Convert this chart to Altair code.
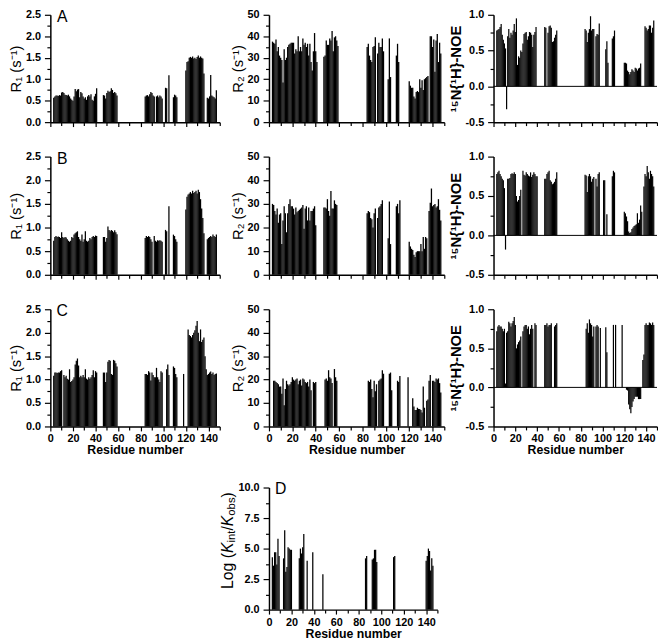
import altair as alt
import pandas as pd

FONT = "Liberation Sans"
XMAX = 150

# ---- data: (first residue, values of consecutive residues); None = no data ----
R1_A = [
    (3, [0.57, 0.60, 0.62, 0.62, 0.61, 0.63, 0.62, 0.69, 0.70, 0.68, 0.64, 0.63, 0.62, 0.64, 0.60, 0.55, 0.52, 0.50, 0.60, 0.77,
         0.72, 0.76, 0.77, 0.58, 0.70, 0.67, 0.60, 0.55, 0.58, 0.52, 0.60, 0.63, 0.60, 0.65, 0.52, 0.50, 0.60, 0.66, 0.79]),
    (47, [0.63, 0.62, 0.55, 0.68, 0.73, 0.70, 0.72, 0.79, 0.75, 0.68, 0.70, 0.67, 0.62]),
    (84, [0.60, 0.62, 0.63, 0.60, 0.65, 0.70, 0.68, 0.62, 0.60, None, 0.60, 0.62, 0.58, 0.62, 0.60, 0.55]),
    (102, [0.80, 0.79, None, 1.09]),
    (109, [0.58, 0.64, 0.62, 0.58]),
    (120, [1.20, 1.40, 1.42, 1.50, 1.52, 1.50, 1.53, 1.48, 1.50, 1.47, 1.52, 1.55, 1.50, 1.53, 1.50, 1.48, 1.13]),
    (139, [0.57, 0.55, 0.60, 1.10, 0.62, 0.60, 0.58, 0.55, 0.74]),
]
R1_B = [
    (3, [0.72, 0.80, 0.82, 0.80, 0.81, 0.80, 0.78, 0.90, 0.80, 0.78, 0.80, 0.79, 0.75, 0.72, 0.70, 0.72, 0.80, 0.78, 0.85, 0.88,
         0.90, 0.92, 0.80, 0.75, 0.72, 0.85, 0.70, 0.75, 0.92, 0.72, 0.70, 0.72, 0.78, 0.75, 0.80, 0.82, 0.80, 0.83, 0.82]),
    (47, [0.80, 0.80, 0.70, 0.78, 1.02, 0.95, 0.92, 0.95, 0.93, 0.90, 0.94, 0.90, 0.86]),
    (84, [0.78, 0.82, 0.80, 0.82, 0.80, 0.75, 0.70, None, 0.82, 0.72, 0.70, 0.73, 0.72, 0.73, 0.72, 0.70]),
    (102, [0.95, 0.92, None, 1.45]),
    (109, [0.85, 0.82, 0.75, 0.70]),
    (120, [1.38, 1.65, 1.70, 1.72, 1.75, 1.72, 1.78, 1.73, 1.75, 1.78, 1.72, 1.80, 1.75, 1.60, 1.40, 1.20, 0.88]),
    (139, [0.75, 0.78, 0.80, 0.82, 0.80, 0.85, 0.82, 0.80, 0.85]),
]
R1_C = [
    (3, [1.08, 1.15, 1.15, 1.14, 1.15, 1.15, 1.18, 1.20, None, 1.10, 1.05, 1.08, 1.02, 1.00, 1.22, 0.95, 0.97, 1.00, 1.05, 1.32,
         1.40, 1.45, 1.30, 1.05, 1.08, 1.05, 1.10, 1.05, 1.22, 1.02, 1.00, 1.05, 1.02, 1.05, 1.10, 1.20, 1.05, 1.18, 1.15]),
    (47, [1.15, 1.15, 0.95, 1.15, 1.38, 1.42, 1.40, 1.12, 1.10, 1.42, 1.40, 1.35, 1.28]),
    (84, [1.12, 1.12, 1.10, 1.18, 1.15, 0.98, 1.15, 1.10, 1.05, 1.05, 1.25, 1.05, 1.00, 0.95, 1.18, 1.15]),
    (103, [1.22, 1.32, 1.10]),
    (109, [1.28, 1.25, 1.12, 1.05]),
    (118, [1.12]),
    (122, [2.07, 1.95, 1.93, 1.90, 1.95, 2.00, 2.05, 2.15, 2.25, 2.00, 1.82, 2.07, 1.80, 1.85, 1.90, 1.50, 1.22]),
    (139, [1.10, 1.12, 1.15, 1.17, 1.12, 1.15, 1.10, 1.12, 1.13]),
]
R2_A = [
    (3, [37.5, 37, 36.5, 38.5, 33, 35, 31, 30, 29, 18.5, 34, 29, 30, 35, 36, 36.5, 37, 37, 37, 32,
         34, 33, 40, 33, 35, 33, 39, 36, 37, 35, 36.5, 31, 36.5, 28, 24, 33, 41.5, 33, 28]),
    (47, [30.5, 31, 38, 36, 36, 39, 38, 42.5, 33, 39.5, 40, 38, 35.5]),
    (84, [35, 36.5, 31, 29, 28, 35, 35.5, 39.5, None, 32, 37, 35, 35, 39, 33]),
    (102, [20, 39, 21]),
    (109, [31, 36.5, 28]),
    (120, [19, 17, 16, 16, 12, 11, 14, 14.5, 14, 20, 16, 19.5, 15, 20, 20.5, 21, 21.5]),
    (138, [40, 40, 35, 38.5, 23.5, 38, 41, 28, 37, 32]),
]
R2_B = [
    (3, [30, 29.5, 27, 25.5, 28, 22, 25.5, 26, 13, 23, 29, 26, 18, 26, 30, 32, 29, 29, 28, 25.5,
         28.5, 26.5, 27, 27.5, 28, 28.5, 29.5, 19.5, 28, 29, 23, 28.5, 23, 27, 27, 28, 29, 21]),
    (47, [28.5, 28.5, 28, 32, 27, 25, 35.5, 28, 28, 31.5, 30, 29.5]),
    (84, [26, 27, 26.5, 24, 23.5, 20, 26, 28, None, 24, 28.5, 29, 30, 31.5]),
    (102, [15.5, 31, 13]),
    (109, [29, 30, 26, 31.5]),
    (120, [14, 12, 11, 10.5, 8.5, 7.5, 9.5, 10, 10, 10, 13, 10, 16, 11, 16, 15.5]),
    (137, [27, 30.5, 36.5, 29, 29.5, 30, 28.5, 29, 32, 27.5, 23]),
]
R2_C = [
    (4, [19.5, 19.5, 19, 18.5, 18, 17, 17, 14, 20.5, 9, 16, 19.5, 18, 17.5, 18, 19, 21, 20, 19.5, 20,
         20.5, 18, 19.5, 20, 17.5, 20.5, 20, 19, 18.5, 19, 17, 20, 15.5, None, 19, 18.5, 19]),
    (48, [20, 20.5, 19.5, 24, 21, 20.5, 18.5, None, 24.5, 21, 19.5]),
    (85, [19.5, 19, 20, 16, 12.5, 19.5, 15, 18, None, 19.5, 20, 20.5, 24, 22.5]),
    (103, [22.5, 23, 15.5]),
    (110, [19.5, 19, 21.5]),
    (119, [21]),
    (123, [12, 8.5, 7, 7, 8, 7.5, 7.5, 7, 6, 17, 8, None, 11, 11.5, 19.5]),
    (138, [22, None, 19.5, 19.5, 19, 20.5, 20, 20.5, 18.5, 14.5]),
]
NOE_A = [
    (3, [0.78, 0.79, 0.80, 0.83, 0.87, 0.72, 0.65, 0.60, 0.53, -0.32, 0.70, 0.80, 0.68, 0.75, 0.72, 0.78, 0.87, 0.76, 0.95,
         0.30, 0.42, 0.40, 0.50, 0.48, 0.60, 0.73, 0.75, 0.76, 0.65, 0.70, 0.76, 0.75, 0.72, 0.55, 0.72, 0.76, 0.83]),
    (47, [0.83, 0.82, None, 0.75, 0.84, 0.85, 0.82, 0.62, 0.63, 0.68, 0.72, 0.78]),
    (84, [0.80, 0.78, 0.62, 0.75, 0.80, 0.98, 0.78, 0.80, 0.80, None, 0.70, 0.73, 0.72, 0.88]),
    (103, [0.52, 0.63, 0.33]),
    (109, [0.67, 0.70, 0.78]),
    (120, [0.33, 0.33, 0.32, 0.22, 0.20, 0.17, 0.20, 0.24, 0.22, 0.20, 0.26, 0.25, 0.22, 0.25, 0.26, 0.32]),
    (139, [0.84, 0.82, 0.78, 0.80, 0.85, 0.85, 0.75, 0.82, 0.92]),
]
NOE_B = [
    (3, [0.78, 0.80, 0.82, 0.78, 0.75, 0.72, 0.70, 0.60, -0.18, None, 0.72, 0.72, 0.73, 0.78, 0.79, 0.78, 0.80, 0.78, 0.50,
         0.43, 0.45, 0.50, 0.58, None, 0.82, 0.77, 0.76, 0.80, 0.78, 0.76, 0.75, 0.80, 0.74, 0.77, 0.80, 0.78, 0.75, 0.75]),
    (47, [0.72, 0.72, 0.78, 0.80, 0.82, 0.70, 0.68, 0.65, 0.66, 0.68, 0.72, 0.80]),
    (84, [0.77, 0.76, 0.55, 0.75, 0.78, 0.75, 0.68, 0.72, 0.74, None, 0.72, 0.62, 0.78, 0.80]),
    (101, [0.70, 0.70, None, 0.27]),
    (109, [0.75, 0.82, 0.80]),
    (120, [0.30, 0.28, 0.24, 0.18, 0.05, 0.03, 0.04, 0.08, 0.10, 0.12, 0.13, 0.14, 0.28, 0.16, 0.20, 0.38, 0.30]),
    (138, [0.62, 0.78, 0.75, 0.88, 0.80, 0.72, 0.82, 0.78, 0.75, 0.62]),
]
NOE_C = [
    (3, [0.72, 0.78, 0.80, 0.78, 0.78, 0.75, 0.72, 0.75, 0.05, 0.70, 0.72, 0.84, 0.82, 0.78, 0.82, 0.85, 0.90, 0.80, 0.50,
         0.55, 0.58, 0.60, 0.65, None, 0.72, 0.78, 0.80, 0.80, 0.75, 0.78, 0.68, 0.75, 0.80, 0.75, None, 0.82, 0.80]),
    (47, [0.80, 0.80, 0.82, 0.78, 0.80, 0.80, 0.82, None, None, 0.78, 0.80, 0.82]),
    (85, [0.75, 0.82, 0.70, 0.87, 0.82, 0.80, 0.65, 0.78, None, 0.78, 0.80, 0.78, None, 0.76]),
    (103, [0.77, 0.45]),
    (110, [0.80, None, 0.80]),
    (118, [0.80]),
    (122, [-0.03, -0.04, -0.22, -0.28, -0.33, -0.25, -0.18, -0.15, -0.12, -0.12, -0.12, -0.15, -0.15, -0.15]),
    (137, [0.35, 0.42, 0.80, 0.82, 0.80, 0.80, 0.83, 0.82, 0.80, 0.83, 0.80]),
]
D_RES = [3, 4, 5, 6, 7, 8, 9, 13, 14, 15, 16, 17, 18, 19, 20, 27, 28, 29, 30, 31, 34, 39, 48,
         86, 87, 92, 93, 94, 95, 96, 111, 112, 140, 141, 142, 143, 144, 145, 146]
D_VAL = [4.3, 3.6, 4.7, 4.7, 3.7, 5.8, 4.4, 4.2, 6.5, 3.1, 3.5, 5.1, 5.0, 4.9, 4.9, 4.2, 5.0, 4.6, 5.1, 6.2, 4.0, 4.7, 2.9,
         4.2, 4.4, 4.1, 4.2, 4.9, 4.9, 3.9, 4.3, 4.4, 4.0, 4.4, 5.0, 4.8, 3.2, 4.2, 3.6]

R1_TICKS = [i * 0.25 for i in range(11)]
R2_TICKS = list(range(0, 51, 5))
NOE_TICKS = [-0.5 + 0.25 * i for i in range(7)]
D_TICKS = [i * 1.25 for i in range(9)]
X_TICKS = list(range(0, 151, 10))


def expand(segs):
    res, val = [], []
    for start, vals in segs:
        for i, v in enumerate(vals):
            if v is not None:
                res.append(start + i)
                val.append(v)
    return pd.DataFrame({"res": res, "v": val})


def tick_size(test, major, minor):
    return {"condition": {"test": test, "value": major}, "value": minor}


COMMON_AX = dict(grid=False, domainColor="black", tickColor="black", domainWidth=1.5, tickWidth=1.2,
                 labelOverlap=False, labelFlush=False, labelColor="black", titleColor="black",
                 labelFont=FONT, labelFontSize=11, labelFontWeight="bold", titleFont=FONT)


def x_axis(labels, lpad=2, tpad=0):
    ts = tick_size("datum.value % 20 === 0", 4.5, 3.5)
    if labels:
        return alt.Axis(values=X_TICKS, tickSize=ts,
                        labelExpr="datum.value % 20 === 0 && datum.value <= 140 ? '' + datum.value : ''",
                        title="Residue number", titleFontSize=12.5, titleFontWeight="bold",
                        labelPadding=lpad, titlePadding=tpad, **COMMON_AX)
    return alt.Axis(values=X_TICKS, tickSize=ts, labels=False, title=None, **COMMON_AX)


def y_axis(kind, title):
    if kind in ("r1", "noe"):
        ticks = R1_TICKS if kind == "r1" else NOE_TICKS
        major = "round(datum.value * 4) % 2 === 0"
        lab = "round(datum.value * 4) % 2 === 0 ? replace(format(datum.value, '.1f'), '\u2212', '-') : ''"
    elif kind == "r2":
        ticks = R2_TICKS
        major = "datum.value % 10 === 0"
        lab = "datum.value % 10 === 0 ? '' + datum.value : ''"
    else:
        ticks = D_TICKS
        major = "round(datum.value / 1.25) % 2 === 0"
        lab = "round(datum.value / 1.25) % 2 === 0 ? format(datum.value, '.1f') : ''"
    kw = dict(values=ticks, tickSize=tick_size(major, 6, 3.5), labelExpr=lab, labelPadding=4, titlePadding=2,
              titleFontSize=15, titleFontWeight="bold" if kind == "noe" else "normal")
    if title is None:
        return alt.Axis(title=None, **kw, **COMMON_AX)
    return alt.Axis(title=title, **kw, **COMMON_AX)


YDOM = {"r1": [0, 2.5], "r2": [0, 50], "noe": [-0.5, 1.0], "d": [0, 10]}
YTITLE = {"r1": "R\u2081 (s\u207b\u00b9)", "r2": "R\u2082 (s\u207b\u00b9)", "noe": "\u00b9\u2075N{\u00b9H}-NOE", "d": None}


def panel(df, kind, w, h, xlabels, letter=None, xl_pad=2, xt_pad=0):
    base = alt.Chart(df).transform_calculate(x0="datum.res - 0.55", x1="datum.res + 0.55", z="0")
    xscale = alt.Scale(domain=[0, XMAX], nice=False, zero=False)
    yscale = alt.Scale(domain=YDOM[kind], nice=False)
    xax = x_axis(xlabels, xl_pad, xt_pad)
    yax = y_axis(kind, YTITLE[kind])
    bars = base.mark_rect(color="black", strokeWidth=0).encode(
        x=alt.X("x0:Q", scale=xscale, axis=xax),
        x2="x1:Q",
        y=alt.Y("v:Q", scale=yscale, axis=yax),
        y2="z:Q",
    )
    layers = [bars]
    if kind == "noe":
        zero = alt.Chart(pd.DataFrame({"v": [0.0]})).mark_rule(color="black", strokeWidth=1).encode(
            y=alt.Y("v:Q", scale=yscale, axis=yax))
        layers.append(zero)
    if letter:
        layers.append(alt.Chart(pd.DataFrame({"t": [letter]})).mark_text(
            font=FONT, fontSize=16, align="center", baseline="middle", color="black").encode(
            text="t:N", x=alt.value(12), y=alt.value(2)))
    if kind == "d":
        pieces = [("Log (", 103, -42, 16, "normal"), ("K", 66.5, -42, 16, "italic"),
                  ("int", 55.8, -38, 11.5, "normal"), ("/", 43.7, -42, 16, "normal"),
                  ("K", 39.3, -42, 16, "italic"), ("obs", 28.6, -38, 11.5, "normal"),
                  (")", 10.1, -42, 16, "normal")]
        for t, py, px, fs, st in pieces:
            layers.append(alt.Chart(pd.DataFrame({"t": [t]})).mark_text(
                font=FONT, fontSize=fs, fontStyle=st, angle=270, align="left", baseline="middle",
                color="black").encode(text="t:N", x=alt.value(px), y=alt.value(py)))
    return alt.layer(*layers).properties(width=w, height=h)


W = [172, 178, 166]
H = [109, 120, 119, 124]
HS = 50

row1 = alt.hconcat(panel(expand(R1_A), "r1", W[0], H[0], False, "A"),
                   panel(expand(R2_A), "r2", W[1], H[0], False),
                   panel(expand(NOE_A), "noe", W[2], H[0], False), spacing=HS, bounds="flush")
row2 = alt.hconcat(panel(expand(R1_B), "r1", W[0], H[1], False, "B"),
                   panel(expand(R2_B), "r2", W[1], H[1], False),
                   panel(expand(NOE_B), "noe", W[2], H[1], False), spacing=HS, bounds="flush")
row3 = alt.hconcat(panel(expand(R1_C), "r1", W[0], H[2], True, "C"),
                   panel(expand(R2_C), "r2", W[1], H[2], True),
                   panel(expand(NOE_C), "noe", W[2], H[2], True), spacing=HS, bounds="flush")
blank = alt.Chart(pd.DataFrame({"a": [0]})).mark_point(opacity=0).encode(
    x=alt.X("a:Q", axis=None), y=alt.Y("a:Q", axis=None)).properties(width=W[0], height=H[3])
dpanel = panel(pd.DataFrame({"res": D_RES, "v": D_VAL}), "d", W[1] - 7, H[3], True, "D", xl_pad=3, xt_pad=0)
row4 = alt.hconcat(blank, dpanel, spacing=HS, bounds="flush")

upper = alt.vconcat(row1, row2, row3, spacing=23)
chart = alt.vconcat(upper, row4, spacing=26).properties(
    padding={"top": -4, "left": 0, "right": 0, "bottom": 0}, background="white"
).configure_view(stroke=None)

chart.save("out.html", embed_options={"renderer": "svg", "actions": False})
